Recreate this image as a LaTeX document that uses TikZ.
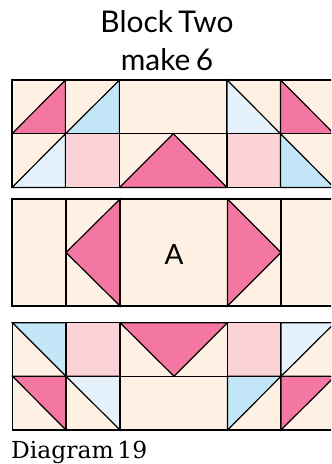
\documentclass[tikz,border=0pt]{standalone}
\usepackage{fontspec}
\setmainfont[WordSpace=0.7]{Lato}
\newfontfamily\capfont[WordSpace=0.5]{DejaVu Serif}
\definecolor{cream}{HTML}{FEF0E3}
\definecolor{hotpink}{HTML}{F376A3}
\definecolor{skyb}{HTML}{C3E5F8}
\definecolor{paleb}{HTML}{E5F1FB}
\definecolor{rosey}{HTML}{FBD2D6}
\tikzset{
  patch/.style={draw=black,line width=1.2bp,line join=miter},
  base/.style={patch,fill=cream},
  pk/.style={patch,fill=hotpink},
  sk/.style={patch,fill=skyb},
  pb/.style={patch,fill=paleb},
  rs/.style={patch,fill=rosey},
  titletext/.style={inner sep=0pt,anchor=base,font=\fontsize{30}{30}\selectfont,text=black},
  captext/.style={inner sep=0pt,anchor=base west,font=\capfont\fontsize{23.5}{25}\selectfont,text=black}
}
\begin{document}
\begin{tikzpicture}[x=1bp,y=-1bp]
\useasboundingbox (0,0) rectangle (331,464);
\clip (0,0) rectangle (331,464);
% row 1
\draw[base] (12,80) rectangle (65.5,133.7);
\draw[pk] (12,133.7) -- (65.5,80) -- (65.5,133.7) -- cycle;
\draw[base] (65.5,80) rectangle (119.5,133.7);
\draw[sk] (65.5,133.7) -- (119.5,80) -- (119.5,133.7) -- cycle;
\draw[base] (119.5,80) rectangle (227,133.7);
\draw[base] (227,80) rectangle (280.5,133.7);
\draw[pb] (227,80) -- (280.5,133.7) -- (227,133.7) -- cycle;
\draw[base] (280.5,80) rectangle (334,133.7);
\draw[pk] (280.5,80) -- (334,133.7) -- (280.5,133.7) -- cycle;
% row 2
\draw[base] (12,133.7) rectangle (65.5,187.5);
\draw[pb] (12,187.5) -- (65.5,133.7) -- (65.5,187.5) -- cycle;
\draw[rs] (65.5,133.7) rectangle (119.5,187.5);
\draw[base] (119.5,133.7) rectangle (227,187.5);
\draw[pk] (119.5,187.5) -- (173.3,133.7) -- (227,187.5) -- cycle;
\draw[rs] (227,133.7) rectangle (280.5,187.5);
\draw[base] (280.5,133.7) rectangle (334,187.5);
\draw[sk] (280.5,133.7) -- (334,187.5) -- (280.5,187.5) -- cycle;
% middle band
\draw[base] (12,199) rectangle (66,306);
\draw[base] (66,199) rectangle (120,306);
\draw[pk] (120,199) -- (66,252.5) -- (120,306) -- cycle;
\draw[base] (120,199) rectangle (227.5,306);
\draw[base] (227.5,199) rectangle (281,306);
\draw[pk] (227.5,199) -- (281,252.5) -- (227.5,306) -- cycle;
\draw[base] (281,199) rectangle (335,306);
% row 3
\draw[base] (12.5,322.7) rectangle (66,376.3);
\draw[sk] (12.5,322.7) -- (66,322.7) -- (66,376.3) -- cycle;
\draw[rs] (66,322.7) rectangle (120,376.3);
\draw[base] (120,322.7) rectangle (227.5,376.3);
\draw[pk] (120,322.7) -- (227.5,322.7) -- (174,376.3) -- cycle;
\draw[rs] (227.5,322.7) rectangle (281,376.3);
\draw[base] (281,322.7) rectangle (335,376.3);
\draw[pb] (281,376.3) -- (281,322.7) -- (335,322.7) -- cycle;
% row 4
\draw[base] (12.5,376.3) rectangle (66,430);
\draw[pk] (12.5,376.3) -- (66,376.3) -- (66,430) -- cycle;
\draw[base] (66,376.3) rectangle (120,430);
\draw[pb] (66,376.3) -- (120,376.3) -- (120,430) -- cycle;
\draw[base] (120,376.3) rectangle (227.5,430);
\draw[base] (227.5,376.3) rectangle (281,430);
\draw[sk] (227.5,430) -- (227.5,376.3) -- (281,376.3) -- cycle;
\draw[base] (281,376.3) rectangle (335,430);
\draw[pk] (281,430) -- (281,376.3) -- (335,376.3) -- cycle;
% text
\node[titletext] (t1) at (167,32.3) {Block Two};
\node[titletext] (t2) at (167,70.7) {make 6};
\node[titletext,font=\fontsize{28}{28}\selectfont] (a) at (174,264) {A};
\node[captext] (c) at (11,458) {Diagram 19};
\end{tikzpicture}
\end{document}
